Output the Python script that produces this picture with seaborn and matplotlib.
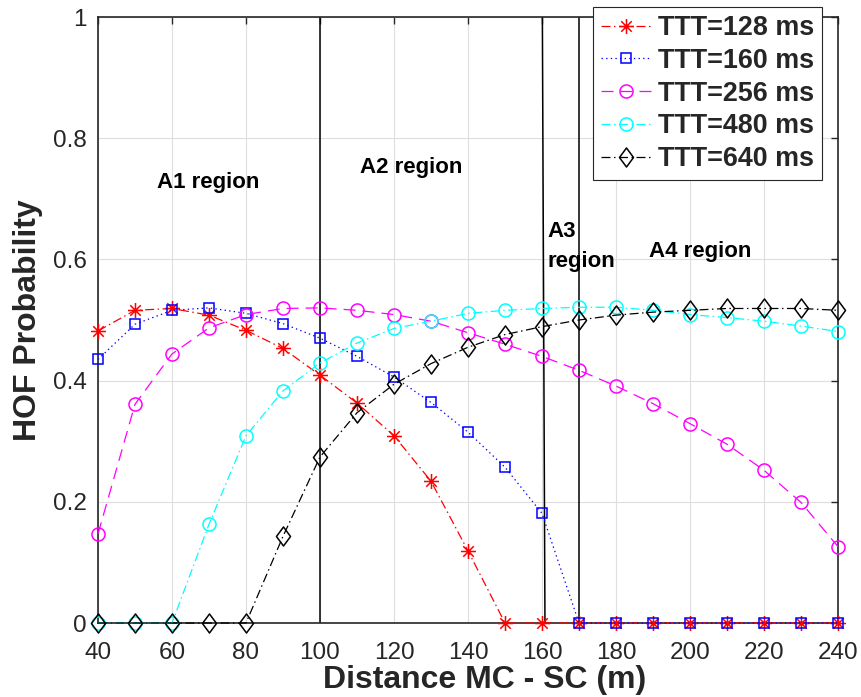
import numpy as np
import pandas as pd
import matplotlib
matplotlib.use("Agg")
import matplotlib.pyplot as plt
from matplotlib.path import Path
from matplotlib.markers import MarkerStyle
import seaborn as sns

# ---------------- data ----------------
distance = list(range(40, 250, 10))
ttt_128 = [0.482, 0.516, 0.519, 0.508, 0.483, 0.453, 0.409, 0.363, 0.309, 0.234, 0.119,
           0, 0, 0, 0, 0, 0, 0, 0, 0, 0]
ttt_160 = [0.435, 0.493, 0.516, 0.520, 0.511, 0.494, 0.470, 0.440, 0.406, 0.364, 0.315,
           0.257, 0.181, 0, 0, 0, 0, 0, 0, 0, 0]
ttt_256 = [0.147, 0.361, 0.444, 0.487, 0.509, 0.519, 0.520, 0.516, 0.509, 0.498, 0.479,
           0.460, 0.440, 0.417, 0.391, 0.362, 0.329, 0.295, 0.252, 0.199, 0.126]
ttt_480 = [0, 0, 0, 0.163, 0.309, 0.383, 0.429, 0.462, 0.486, 0.498, 0.511,
           0.516, 0.519, 0.521, 0.521, 0.516, 0.509, 0.504, 0.498, 0.490, 0.481]
ttt_640 = [0, 0, 0, 0, 0, 0.143, 0.274, 0.347, 0.394, 0.428, 0.455,
           0.476, 0.489, 0.500, 0.508, 0.513, 0.516, 0.519, 0.519, 0.519, 0.516]
series_labels = ["TTT=128 ms", "TTT=160 ms", "TTT=256 ms", "TTT=480 ms", "TTT=640 ms"]
xticks = [40, 60, 80, 100, 120, 140, 160, 180, 200, 220, 240]
yticks = [0, 0.2, 0.4, 0.6, 0.8, 1]
ytick_labels = ["0", "0.2", "0.4", "0.6", "0.8", "1"]
boundary_bottom = [100, 160.8, 170]
boundary_top = [100, 160.1, 170]
region_labels = ["A1 region", "A2 region", "A3", "region", "A4 region"]

# ---------------- style ----------------
sns.set_theme(style="white")
plt.rcParams["font.family"] = ["Liberation Sans", "DejaVu Sans"]

fig = plt.figure(figsize=(8.62, 6.97), dpi=100)
ax = fig.add_axes([98 / 862, 1 - 623 / 697, 740 / 862, 606 / 697])

asterisk = Path(
    [(0, -1), (0, 1), (-1, 0), (1, 0), (-0.7, -0.7), (0.7, 0.7), (-0.7, 0.7), (0.7, -0.7)],
    [Path.MOVETO, Path.LINETO] * 4,
)
diamond = Path([(0, 1), (0.74, 0), (0, -1), (-0.74, 0), (0, 1)],
               [Path.MOVETO, Path.LINETO, Path.LINETO, Path.LINETO, Path.CLOSEPOLY])

dashdot = (0, (7.2, 2.8, 1.2, 2.8))
dashed = (0, (9.6, 5.6))
dotted = (0, (1.1, 2.6))

styles = [
    dict(color="#ff0000", marker=MarkerStyle(asterisk), markersize=10.8, linestyle=dashdot),
    dict(color="#0000ff", marker="s", markersize=7.7, linestyle=dotted),
    dict(color="#ff00ff", marker="o", markersize=9.4, linestyle=dashed),
    dict(color="#00ffff", marker="o", markersize=9.4, linestyle=dashdot),
    dict(color="#000000", marker=MarkerStyle(diamond), markersize=13.7, linestyle=dashdot),
]
values = [ttt_128, ttt_160, ttt_256, ttt_480, ttt_640]

ax.grid(True, color="#dedede", linewidth=0.8)
ax.set_axisbelow(True)

for vals, lab, st in zip(values, series_labels, styles):
    df = pd.DataFrame({"d": distance, "p": vals})
    sns.lineplot(data=df, x="d", y="p", ax=ax, label=lab,
                 color=st["color"], marker=st["marker"], markersize=st["markersize"],
                 linestyle=st["linestyle"], linewidth=0.9,
                 markerfacecolor="none", markeredgecolor=st["color"], markeredgewidth=1.1,
                 estimator=None, errorbar=None, sort=False, clip_on=False, zorder=3)

for xb, xt in zip(boundary_bottom, boundary_top):
    ax.plot([xb, xt], [0, 1], color="#000000", linewidth=1.1, zorder=2)

txt = dict(fontsize=16, fontweight="bold", color="#000000", ha="left", va="baseline")
ax.text(55.9, 0.718, region_labels[0], **txt)
ax.text(110.8, 0.743, region_labels[1], **txt)
ax.text(161.4, 0.637, region_labels[2], **txt)
ax.text(161.4, 0.588, region_labels[3], **txt)
ax.text(188.9, 0.604, region_labels[4], **txt)

ax.set_xlim(40, 240)
ax.set_ylim(0, 1)
ax.set_xticks(xticks)
ax.set_xticklabels([str(v) for v in xticks])
ax.set_yticks(yticks)
ax.set_yticklabels(ytick_labels)
ax.tick_params(axis="both", direction="in", length=5.3, width=1.0, color="#262626",
               labelsize=17.5, labelcolor="#262626", top=True, right=True)
ax.tick_params(axis="x", pad=13.5)
ax.tick_params(axis="y", pad=7.9)

for sp in ax.spines.values():
    sp.set_color("#262626")
    sp.set_linewidth(1.2)
    sp.set_visible(True)

ax.set_xlabel("Distance MC - SC (m)", fontsize=23, fontweight="bold", color="#262626")
ax.set_ylabel("HOF Probability", fontsize=23, fontweight="bold", color="#262626")
ax.xaxis.set_label_coords(0.522, -0.069)
ax.yaxis.set_label_coords(-0.074, 0.5)

leg = ax.legend(loc="upper right", bbox_to_anchor=(822 / 862, 1 - 7 / 697),
                bbox_transform=fig.transFigure,
                prop={"family": "Liberation Sans", "weight": "bold", "size": 19.4},
                frameon=True, fancybox=False, edgecolor="#262626", framealpha=1,
                borderpad=0.3, labelspacing=0.25, handlelength=1.85,
                handletextpad=0.25, borderaxespad=0)
leg.get_frame().set_linewidth(0.8)
leg.set_zorder(10)

fig.savefig("out.png", dpi=100)
